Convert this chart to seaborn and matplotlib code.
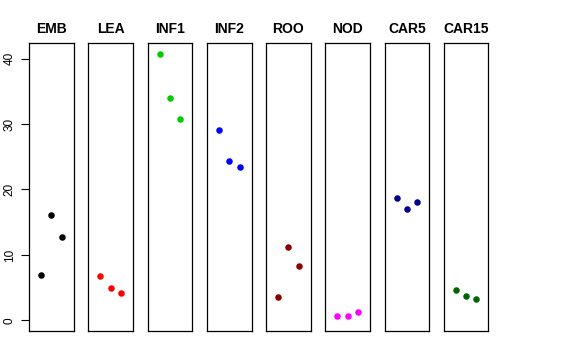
import matplotlib
matplotlib.use("Agg")
import matplotlib.pyplot as plt
import seaborn as sns
import pandas as pd

sns.set_style("ticks")
plt.rcParams['font.family'] = ['Liberation Sans', 'DejaVu Sans']
plt.rcParams['text.color'] = 'black'
plt.rcParams['axes.labelcolor'] = 'black'
plt.rcParams['xtick.color'] = 'black'
plt.rcParams['ytick.color'] = 'black'

tissues = ["EMB", "LEA", "INF1", "INF2", "ROO", "NOD", "CAR5", "CAR15"]
colors = ["#000000", "#FF0000", "#00CD00", "#0000FF", "#8B0000", "#FF00FF", "#00008B", "#006400"]
emb = [6.87, 16.14, 12.78]
lea = [6.82, 5.0, 4.23]
inf1 = [40.76, 33.95, 30.84]
inf2 = [29.16, 24.34, 23.47]
roo = [3.57, 11.25, 8.3]
nod = [0.72, 0.61, 1.28]
car5 = [18.69, 17.0, 18.08]
car15 = [4.58, 3.77, 3.2]
replicates = [1, 2, 3]
yticks = [0, 10, 20, 30, 40]

series = [emb, lea, inf1, inf2, roo, nod, car5, car15]
rows = []
for t, vals in zip(tissues, series):
    for r, v in zip(replicates, vals):
        rows.append({"tissue": t, "rep": r, "value": v})
df = pd.DataFrame(rows)

W, H = 576, 360
fig = plt.figure(figsize=(W / 100, H / 100), dpi=100)
lefts = [29, 88.3, 147.6, 206.9, 266.1, 325.3, 384.6, 443.6]
pw = 44.6
top, bottom = 43, 331
ymin = 0
ymax = max(max(s) for s in series)
ext = (ymax - ymin) * 0.04

for i, (t, c) in enumerate(zip(tissues, colors)):
    ax = fig.add_axes([lefts[i] / W, (H - bottom) / H, pw / W, (bottom - top) / H])
    sub = df[df["tissue"] == t]
    sns.scatterplot(data=sub, x="rep", y="value", color=c, s=22, linewidth=0, ax=ax)
    ax.set_xlim(-0.16, 4.16)
    ax.set_ylim(ymin - ext, ymax + ext)
    ax.set_xticks([])
    ax.set_xlabel("")
    ax.set_ylabel("")
    ax.set_title(t, fontsize=10, fontweight="bold", pad=7, color="black")
    for sp in ax.spines.values():
        sp.set_color("black")
        sp.set_linewidth(0.9)
    if i == 0:
        ax.set_yticks(yticks)
        ax.set_yticklabels([str(v) for v in yticks], rotation=90, va="center", fontsize=8.5)
        ax.tick_params(axis="y", length=5.5, width=0.8, pad=4, colors="black")
    else:
        ax.set_yticks([])

fig.savefig("out.png", dpi=100)
